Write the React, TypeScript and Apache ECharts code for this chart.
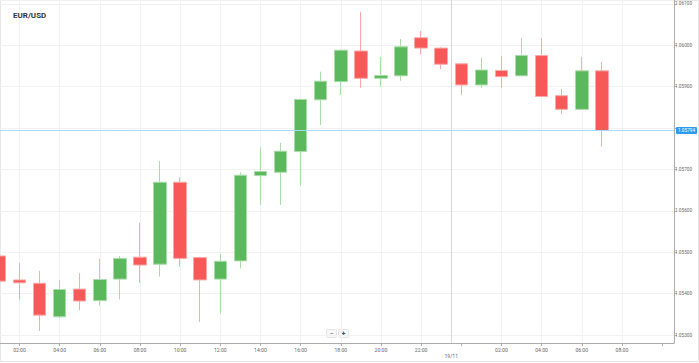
import React, { useEffect, useRef } from "react";
import * as echarts from "echarts";

// Hour index counted from 00:00 of 18/11 (24 = 00:00 of 19/11)
const hours = [1, 2, 3, 4, 5, 6, 7, 8, 9, 10, 11, 12, 13, 14, 15, 16, 17, 18, 19, 20, 21, 22, 23, 24, 25, 26, 27, 28, 29, 30, 31];
const opens = [1.05491, 1.05433, 1.05425, 1.05344, 1.05411, 1.05383, 1.05435, 1.05488, 1.05471, 1.05669, 1.05487, 1.05435, 1.05479, 1.05685, 1.05693, 1.05743, 1.05868, 1.05912, 1.05986, 1.0592, 1.05926, 1.06018, 1.05993, 1.05955, 1.05904, 1.05939, 1.05926, 1.05975, 1.05878, 1.05845, 1.05938];
const closes = [1.0543, 1.05426, 1.05348, 1.0541, 1.05382, 1.05434, 1.05485, 1.05469, 1.05669, 1.05485, 1.05433, 1.05478, 1.05686, 1.05695, 1.05744, 1.05869, 1.05913, 1.05988, 1.0592, 1.05927, 1.05996, 1.05993, 1.05954, 1.05904, 1.0594, 1.05924, 1.05975, 1.05876, 1.05845, 1.05938, 1.05794];
const lows = [1.05423, 1.05385, 1.0531, 1.05341, 1.0536, 1.05371, 1.05386, 1.05426, 1.05441, 1.05465, 1.05332, 1.05352, 1.05461, 1.05614, 1.05614, 1.0566, 1.05807, 1.0588, 1.05897, 1.059, 1.05914, 1.05978, 1.05942, 1.0588, 1.05897, 1.05897, 1.05925, 1.05875, 1.05834, 1.05844, 1.05755];
const highs = [1.05496, 1.05474, 1.05455, 1.05433, 1.05449, 1.05484, 1.05491, 1.05571, 1.0572, 1.05681, 1.05489, 1.05496, 1.05693, 1.05754, 1.05764, 1.0587, 1.05936, 1.05989, 1.06081, 1.05972, 1.06015, 1.06034, 1.05995, 1.05956, 1.0597, 1.05974, 1.06018, 1.06017, 1.05894, 1.05972, 1.05959];

const gridHours = [2, 4, 6, 8, 10, 12, 14, 16, 18, 20, 22, 26, 28, 30, 32];
const dayBreakHour = 23.5;
const dayLabel = "19/11";
const currentPrice = 1.05794;
const title = "EUR/USD";

const xMin = 1.029;
const xMax = 34.594;
const yMin = 1.0528068;
const yMax = 1.0610918;

const pad = (n: number) => (n < 10 ? "0" + n : "" + n);

export default function App() {
  const ref = useRef<HTMLDivElement>(null);

  useEffect(() => {
    if (!ref.current) return;
    const chart = echarts.init(ref.current, null, { renderer: "svg" });
    const data = hours.map((h, i) => [h, opens[i], closes[i], lows[i], highs[i]]);
    const font = "Roboto";

    chart.setOption({
      animation: false,
      textStyle: { fontFamily: font },
      title: {
        text: title,
        left: 8,
        top: 6,
        textStyle: { fontSize: 8, fontWeight: "bold", color: "#333", fontFamily: font },
      },
      grid: { left: 0, right: 25, top: 0, bottom: 20, containLabel: false },
      xAxis: {
        type: "value",
        min: xMin,
        max: xMax,
        minInterval: 2,
        maxInterval: 2,
        axisLine: { show: true, lineStyle: { color: "#acacac", width: 1 } },
        axisTick: { show: true, length: 3, lineStyle: { color: "#acacac" } },
        splitLine: { show: false },
        axisLabel: {
          showMinLabel: false,
          showMaxLabel: false,
          fontSize: 5.1,
          color: "#666",
          margin: 4,
          formatter: (v: number) => {
            if (Math.abs(v - Math.round(v)) > 1e-6) return "";
            const h = Math.round(v);
            if (h === 24 || h > 32) return "";
            return pad(h % 24) + ":00";
          },
        },
      },
      yAxis: {
        type: "value",
        position: "right",
        min: yMin,
        max: yMax,
        splitNumber: 8,
        minInterval: 0.001,
        maxInterval: 0.001,
        axisLine: { show: true, lineStyle: { color: "#acacac", width: 1 } },
        axisTick: { show: true, length: 3, lineStyle: { color: "#acacac" } },
        splitLine: { show: true, lineStyle: { color: "#f1f1f1", width: 1 } },
        axisLabel: {
          showMinLabel: false,
          showMaxLabel: false,
          fontSize: 4.7,
          color: "#666",
          margin: 1,
          // the tick label hidden behind the current-price tag is not drawn
          formatter: (v: number) => (Math.abs(v - currentPrice) < 0.0003 ? "" : v.toFixed(5)),
        },
      },
      series: [
        {
          type: "candlestick",
          data,
          encode: { x: 0, y: [1, 2, 3, 4] },
          barWidth: 13,
          z: 2,
          itemStyle: {
            color: "#5cb85c",
            color0: "#f75959",
            borderColor: "#a9dca9",
            borderColor0: "#fba8a8",
            borderWidth: 1,
          },
          markLine: {
            silent: true,
            z: 1,
            symbol: ["none", "none"],
            animation: false,
            label: { show: false },
            data: [
              ...gridHours.map((h) => ({
                xAxis: h,
                lineStyle: { color: "#f1f1f1", width: 1, type: "solid" },
                label: { show: false },
              })),
              {
                xAxis: dayBreakHour,
                lineStyle: { color: "#d6d6d6", width: 1, type: "solid" },
                label: {
                  show: true,
                  position: "start",
                  distance: 10,
                  formatter: dayLabel,
                  fontSize: 5.1,
                  color: "#666",
                },
              },
            ],
          },
        },
        {
          type: "line",
          data: [
            [xMin, currentPrice],
            [xMax, currentPrice],
          ],
          z: 5,
          silent: true,
          symbol: "none",
          showSymbol: false,
          lineStyle: { color: "#a9d8f8", width: 1, type: "solid" },
          endLabel: {
            show: true,
            distance: 2,
            formatter: currentPrice.toFixed(5),
            fontSize: 4.7,
            color: "#fff",
            backgroundColor: "#2d9cf0",
            padding: [1, 2, 1, 2],
            borderRadius: 1,
          },
        },
      ],
      graphic: [
        {
          type: "rect",
          silent: true,
          z: -1,
          shape: { x: 0.5, y: 0.5, width: 698, height: 361 },
          style: { fill: "none", stroke: "#e6e6e6", lineWidth: 1 },
        },
        {
          type: "group",
          left: 326,
          top: 329,
          z: 10,
          children: [
            {
              type: "rect",
              shape: { x: 0, y: 0, width: 10, height: 8, r: 1 },
              style: { fill: "#f8f8f8", stroke: "#e4e4e4", lineWidth: 1 },
            },
            {
              type: "text",
              x: 5,
              y: 4,
              style: { text: "−", fontSize: 7, fill: "#555", align: "center", verticalAlign: "middle", fontFamily: font },
            },
            {
              type: "rect",
              shape: { x: 12, y: 0, width: 10, height: 8, r: 1 },
              style: { fill: "#f8f8f8", stroke: "#e4e4e4", lineWidth: 1 },
            },
            {
              type: "text",
              x: 17,
              y: 4,
              style: { text: "+", fontSize: 8, fontWeight: "bold", fill: "#555", align: "center", verticalAlign: "middle", fontFamily: font },
            },
          ],
        },
      ],
    });

    return () => chart.dispose();
  }, []);

  return (
    <div
      ref={ref}
      style={{ position: "fixed", left: 0, top: 0, width: 699, height: 363, background: "#fff" }}
    />
  );
}
